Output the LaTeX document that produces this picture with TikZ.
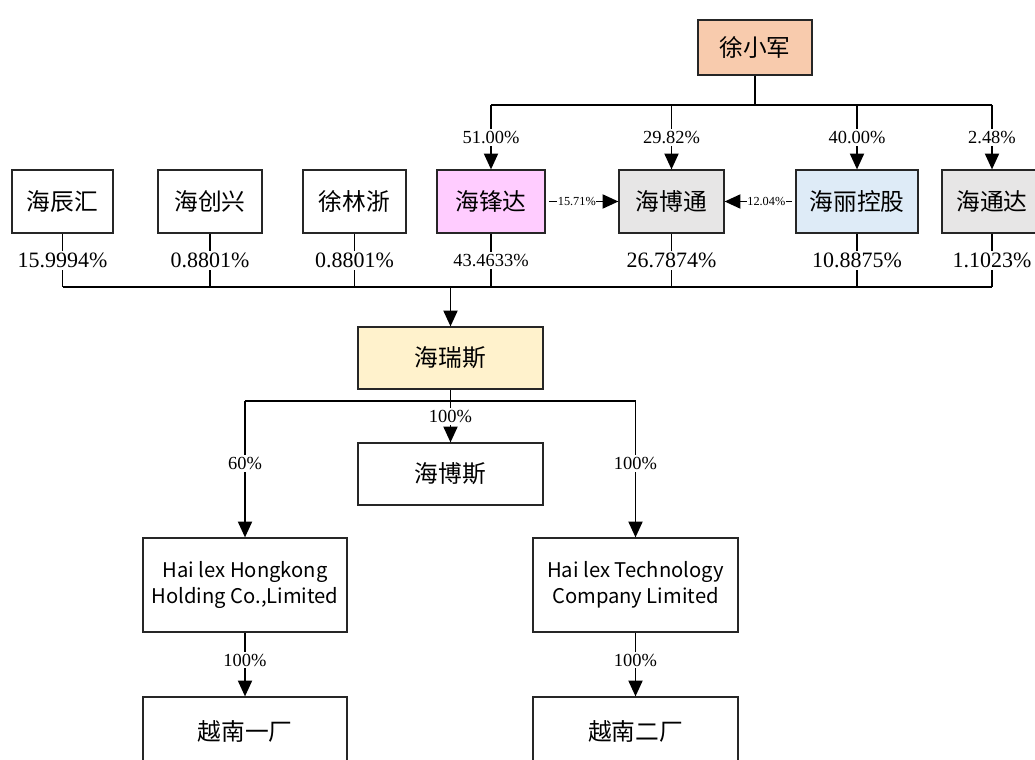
\documentclass[tikz,border=0pt]{standalone}
\usepackage{fontspec}
\setmainfont{Liberation Serif}
\newfontfamily\cjk{Noto Sans CJK SC}
\usetikzlibrary{arrows.meta}
\definecolor{peach}{HTML}{F8CBAD}
\definecolor{pinkbox}{HTML}{FFCCFF}
\definecolor{graybox}{HTML}{E7E6E6}
\definecolor{bluebox}{HTML}{DEEBF7}
\definecolor{yellowbox}{HTML}{FFF2CC}
\tikzset{
	box/.style={draw=black!85, line width=0.7pt, inner sep=0pt, align=center, font=\cjk\fontsize{13.5}{16}\selectfont},
	enbox/.style={box, font=\cjk\fontsize{11.5}{14.5}\selectfont},
	pct/.style={fill=white, inner sep=1.2pt, font=\fontsize{10.5}{12}\selectfont},
	pctbig/.style={pct, font=\fontsize{12.5}{14}\selectfont},
	pcttiny/.style={pct, inner sep=0.4pt, font=\fontsize{7}{8}\selectfont},
	link/.style={line width=1pt},
	arr/.style={link, -{Triangle[width=8pt,length=9pt]}}
}
\begin{document}
\begin{tikzpicture}[x=0.02cm,y=-0.02cm]
	\clip (0,0) rectangle (1035,760);
	\fill[white] (0,0) rectangle (1035,760);
	\coordinate (lv1) at (0,105);
	\coordinate (lv2) at (0,287);
	\coordinate (lv3) at (0,401);

	%holder
	\node (xxj) at (755,47.5) [box,fill=peach,minimum width=2.28cm,minimum height=1.1cm] {徐小军};

	%shareholders
	\node (hch) at (62.5,201.5) [box,minimum width=2.02cm,minimum height=1.26cm] {海辰汇};
	\node (hcx) at (210,201.5) [box,minimum width=2.08cm,minimum height=1.26cm] {海创兴};
	\node (xlz) at (354.5,201.5) [box,minimum width=2.06cm,minimum height=1.26cm] {徐林浙};
	\node (hfd) at (491,201.5) [box,fill=pinkbox,minimum width=2.16cm,minimum height=1.26cm] {海锋达};
	\node (hbt) at (671.5,201.5) [box,fill=graybox,minimum width=2.1cm,minimum height=1.26cm] {海博通};
	\node (hlkg) at (857,201.5) [box,fill=bluebox,minimum width=2.44cm,minimum height=1.26cm] {海丽控股};
	\node (htd) at (992,201.5) [box,fill=graybox,minimum width=2cm,minimum height=1.26cm] {海通达};

	%company
	\node (hrs) at (450.5,358) [box,fill=yellowbox,minimum width=3.7cm,minimum height=1.24cm] {海瑞斯};
	\node (hbs) at (450.5,474) [box,minimum width=3.7cm,minimum height=1.24cm] {海博斯};
	\node (hk) at (245,585) [enbox,minimum width=4.08cm,minimum height=1.88cm] {Hai lex Hongkong\\Holding Co.,Limited};
	\node (tech) at (635.5,585) [enbox,minimum width=4.1cm,minimum height=1.88cm] {Hai lex Technology\\Company Limited};
	\node (vn1) at (245,731) [box,minimum width=4.08cm,minimum height=1.36cm] {越南一厂};
	\node (vn2) at (635.5,731) [box,minimum width=4.1cm,minimum height=1.36cm] {越南二厂};

	%top links
	\draw[link] (xxj.south) -- (xxj.south |- lv1);
	\draw[link] (hfd.north |- lv1) -- (htd.north |- lv1);
	\foreach \n/\p in {hfd/51.00, hbt/29.82, hlkg/40.00, htd/2.48}
		\draw[arr] (\n.north |- lv1) -- (\n.north) node[pct,pos=0.5] {\p\%};
	\draw[arr] ([xshift=2pt]hfd.east) -- (hbt.west) node[pcttiny,pos=0.4] {15.71\%};
	\draw[arr] ([xshift=-2pt]hlkg.west) -- (hbt.east) node[pcttiny,pos=0.38] {12.04\%};

	%shares in the company
	\foreach \n/\p in {hch/15.9994, hcx/0.8801, xlz/0.8801, hbt/26.7874, hlkg/10.8875, htd/1.1023}
		\draw[link] (\n.south) -- (\n.south |- lv2) node[pctbig,midway] {\p\%};
	\draw[link] (hfd.south) -- (hfd.south |- lv2) node[pct,midway] {43.4633\%};
	\draw[link] (hch.south |- lv2) -- (htd.south |- lv2);
	\draw[arr] (hrs.north |- lv2) -- (hrs.north);

	%subsidiaries
	\draw[link] (hrs.south) -- (hrs.south |- lv3);
	\draw[link] (hk.north |- lv3) -- (tech.north |- lv3);
	\draw[arr] (hrs.south |- lv3) -- (hbs.north) node[pct,pos=0.38] {100\%};
	\draw[arr] (hk.north |- lv3) -- (hk.north) node[pct,pos=0.46] {60\%};
	\draw[arr] (tech.north |- lv3) -- (tech.north) node[pct,pos=0.46] {100\%};
	\draw[arr] (hk.south) -- (vn1.north) node[pct,pos=0.43] {100\%};
	\draw[arr] (tech.south) -- (vn2.north) node[pct,pos=0.43] {100\%};
\end{tikzpicture}
\end{document}
